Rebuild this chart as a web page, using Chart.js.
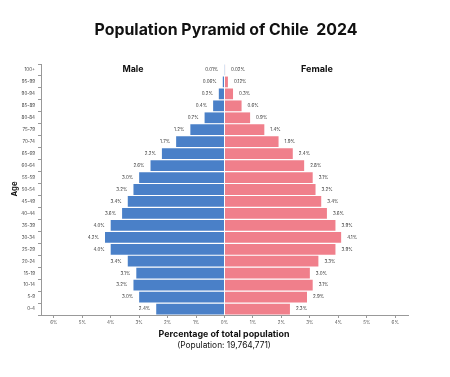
<!DOCTYPE html>
<html>
<head>
<meta charset="utf-8">
<script src="https://cdn.jsdelivr.net/npm/chart.js@4"></script>
<style>
  html, body { margin: 0; padding: 0; background: #fff; }
  #wrap { width: 450px; height: 377px; }
</style>
</head>
<body>
<div id="wrap"><canvas id="pyramid"></canvas></div>
<script>
// age groups, top to bottom
var ageGroups = ["100+", "95-99", "90-94", "85-89", "80-84", "75-79", "70-74", "65-69", "60-64", "55-59",
    "50-54", "45-49", "40-44", "35-39", "30-34", "25-29", "20-24", "15-19", "10-14", "5-9", "0-4"];
// percent of total population
var maleValues = [0.01, 0.06, 0.2, 0.4, 0.7, 1.2, 1.7, 2.2, 2.6, 3.0,
    3.2, 3.4, 3.6, 4.0, 4.2, 4.0, 3.4, 3.1, 3.2, 3.0, 2.4];
var femaleValues = [0.02, 0.12, 0.3, 0.6, 0.9, 1.4, 1.9, 2.4, 2.8, 3.1,
    3.2, 3.4, 3.6, 3.9, 4.1, 3.9, 3.3, 3.0, 3.1, 2.9, 2.3];
var xTicks = [-6, -5, -4, -3, -2, -1, 0, 1, 2, 3, 4, 5, 6];

var FONT = "Inter, Lato, sans-serif";

function fmt(v) {
    var tenths = v * 10;
    if (Math.abs(tenths - Math.round(tenths)) < 1e-9) return v.toFixed(1) + "%";
    return v.toFixed(2) + "%";
}

// draw centred text, sized so it spans roughly the given width
function fitText(c, text, cx, cy, width, weight) {
    c.font = weight + " 10px " + FONT;
    var size = 10 * width / c.measureText(text).width;
    c.font = weight + " " + size.toFixed(2) + "px " + FONT;
    c.fillText(text, cx, cy);
}

var textPlugin = {
    id: "textPlugin",
    afterDatasetsDraw(chart) {
        var c = chart.ctx;
        var x = chart.scales.x;
        var y = chart.scales.y;
        c.save();
        c.fillStyle = "#333";
        c.font = "4.5px " + FONT;
        c.textBaseline = "middle";
        ageGroups.forEach((g, i) => {
            var yy = y.getPixelForValue(i);
            c.textAlign = "right";
            c.fillText(fmt(maleValues[i]), x.getPixelForValue(-maleValues[i]) - 6, yy);
            c.textAlign = "left";
            c.fillText(fmt(femaleValues[i]), x.getPixelForValue(femaleValues[i]) + 6, yy);
        });

        c.fillStyle = "#111";
        c.textAlign = "center";
        fitText(c, "Population Pyramid of Chile  2024", 226, 30, 263, "bold");
        fitText(c, "Male", 133, 69, 21, "bold");
        fitText(c, "Female", 317, 69, 32, "bold");
        fitText(c, "Percentage of total population", 224, 334, 131, "bold");
        fitText(c, "(Population: 19,764,771)", 224, 345, 94, "normal");

        c.translate(15, 189);
        c.rotate(-Math.PI / 2);
        fitText(c, "Age", 0, 0, 15, "bold");
        c.restore();
    }
};

new Chart(document.getElementById("pyramid"), {
    type: "bar",
    data: {
        labels: ageGroups,
        datasets: [
            {
                label: "Male",
                data: maleValues.map((v) => -v),
                backgroundColor: "#4a80c8",
                barPercentage: 1,
                categoryPercentage: 0.9,
            },
            {
                label: "Female",
                data: femaleValues,
                backgroundColor: "#f07f8b",
                barPercentage: 1,
                categoryPercentage: 0.9,
            },
        ],
    },
    options: {
        indexAxis: "y",
        responsive: true,
        maintainAspectRatio: false,
        animation: false,
        layout: {
            padding: { top: 64, right: 42, bottom: 0, left: 0 },
        },
        plugins: {
            legend: { display: false },
            title: { display: false },
            tooltip: { enabled: false },
        },
        scales: {
            x: {
                stacked: true,
                min: -6.45,
                max: 6.45,
                afterBuildTicks: (axis) => {
                    axis.ticks = xTicks.map((v) => ({ value: v }));
                },
                afterFit: (axis) => {
                    axis.height = 62;
                },
                ticks: {
                    font: { size: 4.5, family: FONT },
                    color: "#555",
                    padding: 2,
                    callback: (v) => Math.abs(v) + "%",
                },
                grid: { drawOnChartArea: false, drawTicks: true, tickLength: 3, color: "#999" },
                border: { color: "#999" },
            },
            y: {
                stacked: true,
                afterFit: (axis) => {
                    axis.width = 41;
                },
                ticks: {
                    font: { size: 4.5, family: FONT },
                    color: "#444",
                    padding: 3,
                    autoSkip: false,
                },
                grid: { drawOnChartArea: false, drawTicks: true, tickLength: 3, color: "#999" },
                border: { color: "#999" },
            },
        },
    },
    plugins: [textPlugin],
});
</script>
</body>
</html>
